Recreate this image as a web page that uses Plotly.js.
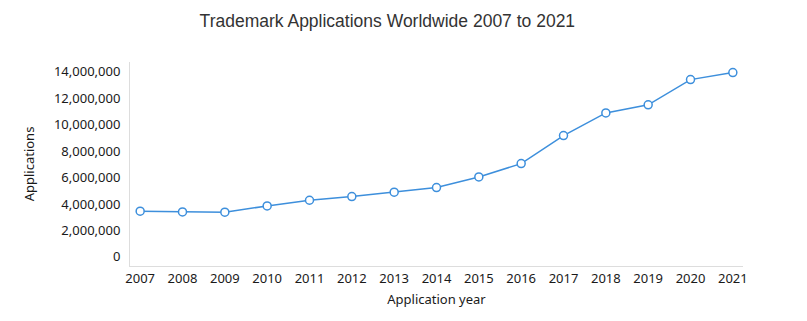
<!DOCTYPE html>
<html>
<head>
<meta charset="utf-8">
<script src="https://cdn.plot.ly/plotly-3.0.1.min.js"></script>
<style>html,body{margin:0;padding:0;background:#fff;}#chart{width:807px;height:321px;}</style>
</head>
<body>
<div id="chart"></div>
<script>
var years = ['2007','2008','2009','2010','2011','2012','2013','2014','2015','2016','2017','2018','2019','2020','2021'];
var applications = [3450000, 3400000, 3380000, 3850000, 4280000, 4560000, 4890000, 5240000, 6040000, 7050000, 9170000, 10880000, 11490000, 13400000, 13930000];
var yTickValues = [0, 2000000, 4000000, 6000000, 8000000, 10000000, 12000000, 14000000];
var yTickLabels = ['0', '2,000,000', '4,000,000', '6,000,000', '8,000,000', '10,000,000', '12,000,000', '14,000,000'];

var trace = {
  x: years.map(Number),
  y: applications,
  type: 'scatter',
  mode: 'lines+markers',
  line: {color: '#3d8fdc', width: 1.5},
  marker: {size: 8, color: '#ffffff', line: {color: '#3d8fdc', width: 1.5}},
  hoverinfo: 'x+y'
};

var tickFont = {family: '"Noto Sans", "Open Sans", sans-serif', size: 13, color: '#1a1a1a'};

var layout = {
  width: 807,
  height: 321,
  margin: {l: 130, r: 64, t: 62, b: 55},
  paper_bgcolor: '#ffffff',
  plot_bgcolor: '#ffffff',
  showlegend: false,
  title: {
    text: 'Trademark Applications Worldwide 2007 to 2021',
    font: {family: '"Liberation Sans", Arial, sans-serif', size: 17.5, color: '#333333'},
    x: 0.48, xanchor: 'center', y: 0.935, yanchor: 'middle'
  },
  xaxis: {
    range: [2006.76, 2021.24],
    tickmode: 'array',
    tickvals: years.map(Number),
    ticktext: years,
    showgrid: false,
    zeroline: false,
    showline: true,
    linecolor: '#dddddd',
    linewidth: 1,
    ticks: '',
    ticklen: 0,
    tickfont: tickFont,
    title: {text: 'Application year', font: tickFont, standoff: 9}
  },
  yaxis: {
    range: [-690000, 14730000],
    tickmode: 'array',
    tickvals: yTickValues,
    ticktext: yTickLabels,
    showgrid: false,
    zeroline: false,
    showline: true,
    linecolor: '#dddddd',
    linewidth: 1,
    ticks: '',
    ticklabelstandoff: 6,
    tickfont: tickFont,
    title: {text: 'Applications', font: tickFont, standoff: 16}
  }
};

Plotly.newPlot('chart', [trace], layout, {displayModeBar: false, staticPlot: true});
</script>
</body>
</html>
